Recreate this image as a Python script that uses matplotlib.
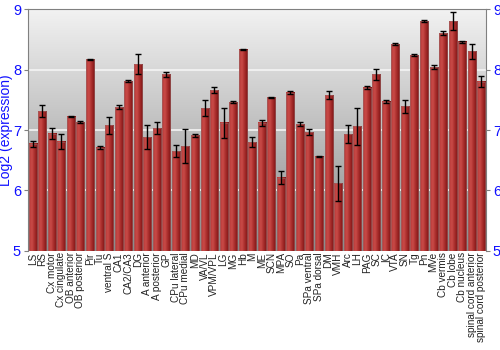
import matplotlib.pyplot as plt
import numpy as np
from matplotlib.colors import LinearSegmentedColormap

regions = ['LS', 'RS', 'Cx motor', 'Cx cingulate', 'OB anterior', 'OB posterior', 'Pir', 'Tu',
           'ventral S', 'CA1', 'CA2/CA3', 'DG', 'A anterior', 'A posterior', 'GP',
           'CPu lateral', 'CPu medial', 'MD', 'VA/VL', 'VPM/VPL', 'LG', 'MG', 'Hb',
           'M', 'ME', 'SCN', 'MPA', 'SO', 'Pa', 'SPa ventral', 'SPa dorsal', 'DM',
           'VMH', 'Arc', 'LH', 'PAG', 'SC', 'IC', 'VTA', 'SN', 'Tg', 'Pn', 'MVe',
           'Cb vermis', 'Cb lobe', 'Cb nucleus', 'spinal cord anterior', 'spinal cord posterior']
expression = [6.77, 7.31, 6.94, 6.81, 7.22, 7.13, 8.17, 6.71,
              7.08, 7.38, 7.81, 8.09, 6.88, 7.03, 7.92,
              6.65, 6.73, 6.91, 7.36, 7.66, 7.12, 7.46, 8.33,
              6.80, 7.12, 7.54, 6.21, 7.62, 7.10, 6.96, 6.56, 7.58,
              6.12, 6.93, 7.06, 7.70, 7.92, 7.47, 8.42, 7.39, 8.24, 8.80, 8.04,
              8.60, 8.80, 8.46, 8.30, 7.80]
error = [0.05, 0.10, 0.09, 0.13, 0.01, 0.02, 0.01, 0.03,
         0.14, 0.04, 0.02, 0.17, 0.20, 0.10, 0.04,
         0.10, 0.28, 0.03, 0.13, 0.05, 0.25, 0.02, 0.01,
         0.08, 0.05, 0.01, 0.11, 0.03, 0.04, 0.05, 0.01, 0.07,
         0.29, 0.15, 0.30, 0.02, 0.09, 0.02, 0.02, 0.11, 0.01, 0.02, 0.03,
         0.03, 0.15, 0.02, 0.12, 0.09]

blue = '#1010ff'
fig = plt.figure(figsize=(5, 3.5), dpi=100)
ax = fig.add_axes([0.056, 0.283, 0.916, 0.691])

x = np.arange(len(regions))
width = 0.84

# background gradient
bg = LinearSegmentedColormap.from_list('bg', ['#8a8a8a', '#f2f2f2'])
ax.imshow(np.linspace(0, 1, 256).reshape(-1, 1), cmap=bg, aspect='auto',
          extent=[-0.5, len(regions) - 0.5, 5, 9], origin='lower', zorder=0)
for yv in [6, 7, 8]:
    ax.axhline(yv, color='#f4f4f4', lw=1.2, zorder=1)

# red cylinder-like bars
barcm = LinearSegmentedColormap.from_list('bar', ['#b83a38', '#c94a47', '#a52a29', '#7c1414'])
grad = np.linspace(0, 1, 64).reshape(1, -1)
bars = ax.bar(x, expression, width, bottom=0, color='none', edgecolor='#9a6a6a', lw=0.4, zorder=3)
for rect in bars:
    x0 = rect.get_x()
    ax.imshow(grad, cmap=barcm, aspect='auto', zorder=2,
              extent=[x0, x0 + rect.get_width(), 5, rect.get_height()])
ax.errorbar(x, expression, yerr=error, fmt='none', ecolor='black', elinewidth=1,
            capsize=2.2, capthick=1, zorder=4)
ax.set_xlim(-0.5, len(regions) - 0.5)
ax.set_ylim(5, 9)

ax.set_xticks(x)
ax.set_xticklabels(regions, rotation=90, fontsize=7.2, family='Liberation Sans', color='#222222')
ax.tick_params(axis='x', length=0, pad=1)
ax.set_yticks([5, 6, 7, 8, 9])
ax.tick_params(axis='y', which='both', labelsize=10.5, colors='#808080', labelcolor=blue,
               length=3, direction='out', right=True, labelright=True, pad=2)
for lab in ax.get_yticklabels():
    lab.set_family('Liberation Sans')
ax.set_ylabel('Log2 (expression)', color=blue, fontsize=10, family='Liberation Sans', labelpad=0)

for s in ['top', 'left', 'right']:
    ax.spines[s].set_color('#808080')
ax.spines['bottom'].set_visible(False)

plt.savefig('out.png', dpi=100)
